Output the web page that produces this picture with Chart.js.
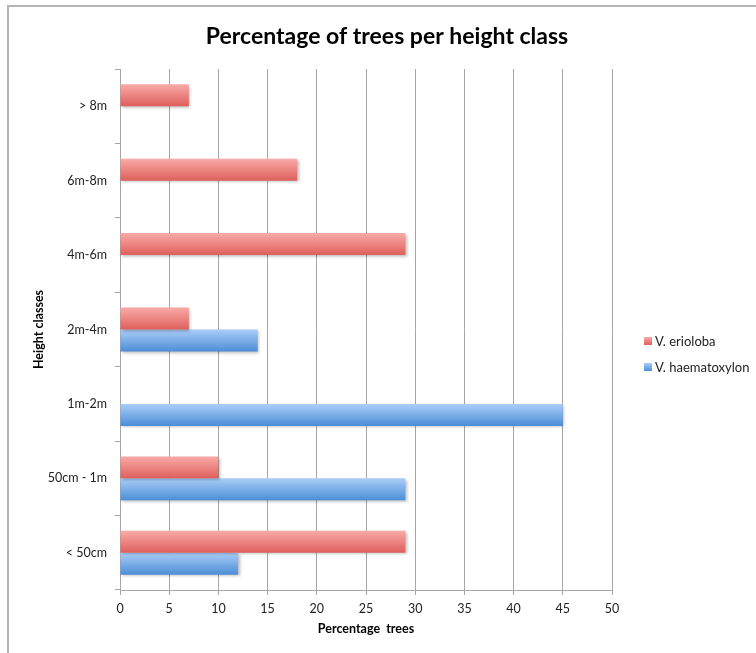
<!DOCTYPE html>
<html lang="en">
<head>
  <meta charset="UTF-8" />
  <title>Percentage of trees per height class</title>
  <script src="https://cdn.jsdelivr.net/npm/chart.js"></script>
  <style>
    body {
      margin: 0;
      padding: 0;
      background: #ffffff;
      font-family: Lato, sans-serif;
    }
    .wrap {
      position: relative;
      width: 756px;
      height: 653px;
      overflow: hidden;
    }
    .frame {
      position: absolute;
      left: 7px;
      top: 5px;
      width: 800px;
      height: 700px;
      border-top: 2px solid #b4b4b4;
      border-left: 2px solid #b4b4b4;
      pointer-events: none;
    }
    canvas {
      position: absolute;
      left: 0;
      top: 0;
    }
  </style>
</head>
<body>
  <div class="wrap">
    <canvas id="treeChart" width="756" height="653"></canvas>
    <div class="frame"></div>
  </div>

  <script>
    const chartTitle = 'Percentage of trees per height class';
    const heightClasses = ['> 8m', '6m-8m', '4m-6m', '2m-4m', '1m-2m', '50cm - 1m', '< 50cm'];
    const eriolobaValues = [7, 18, 29, 7, 0, 10, 29];
    const haematoxylonValues = [0, 0, 0, 14, 45, 29, 12];
    const xTicks = [0, 5, 10, 15, 20, 25, 30, 35, 40, 45, 50];

    const catPct = 0.59;
    const fills = [
      { top: '#f9aba8', bottom: '#de5f5b' },
      { top: '#abcdf8', bottom: '#4b8ed7' }
    ];

    // vertical gradient for each bar, worked out from the category scale
    function barFill(ctx) {
      const c = fills[ctx.datasetIndex];
      const yScale = ctx.chart.scales.y;
      if (!yScale || ctx.dataIndex === undefined) return c.bottom;
      const step = yScale.getPixelForValue(1) - yScale.getPixelForValue(0);
      if (!isFinite(step) || step <= 0) return c.bottom;
      const groupH = step * catPct;
      const barH = groupH / 2;
      const top = yScale.getPixelForValue(ctx.dataIndex) - groupH / 2 + ctx.datasetIndex * barH;
      const g = ctx.chart.ctx.createLinearGradient(0, top, 0, top + barH);
      g.addColorStop(0, c.top);
      g.addColorStop(1, c.bottom);
      return g;
    }

    const shadowPlugin = {
      id: 'barShadow',
      beforeDatasetsDraw(chart) {
        const ctx = chart.ctx;
        ctx.save();
        ctx.shadowColor = 'rgba(0,0,0,0.28)';
        ctx.shadowBlur = 3;
        ctx.shadowOffsetX = 1.5;
        ctx.shadowOffsetY = 1.5;
      },
      afterDatasetsDraw(chart) {
        chart.ctx.restore();
      }
    };

    // title and legend drawn by hand so they sit where the original has them
    const textPlugin = {
      id: 'titleLegend',
      afterDraw(chart) {
        const ctx = chart.ctx;
        ctx.save();
        ctx.fillStyle = '#000';
        ctx.font = 'bold 23px Lato';
        ctx.textAlign = 'center';
        ctx.textBaseline = 'middle';
        ctx.fillText(chartTitle, 387, 37);

        ctx.font = '13px Lato';
        ctx.textAlign = 'left';
        chart.data.datasets.forEach((ds, i) => {
          const y = 341 + i * 26;
          const g = ctx.createLinearGradient(0, y - 4, 0, y + 4);
          g.addColorStop(0, fills[i].top);
          g.addColorStop(1, fills[i].bottom);
          ctx.fillStyle = g;
          ctx.fillRect(644, y - 4, 8, 8);
          ctx.fillStyle = '#222';
          ctx.fillText(ds.label, 655, y + 1);
        });
        ctx.restore();
      }
    };

    const gridGray = '#a6a6a6';

    new Chart(document.getElementById('treeChart').getContext('2d'), {
      type: 'bar',
      data: {
        labels: heightClasses,
        datasets: [
          {
            label: 'V. erioloba',
            data: eriolobaValues,
            backgroundColor: barFill,
            borderWidth: 0,
            categoryPercentage: catPct,
            barPercentage: 1
          },
          {
            label: 'V. haematoxylon',
            data: haematoxylonValues,
            backgroundColor: barFill,
            borderWidth: 0,
            categoryPercentage: catPct,
            barPercentage: 1
          }
        ]
      },
      options: {
        indexAxis: 'y',
        responsive: false,
        animation: false,
        layout: { padding: { top: 69, left: 0, right: 144, bottom: 0 } },
        plugins: {
          legend: { display: false },
          title: { display: false },
          tooltip: { enabled: false }
        },
        scales: {
          x: {
            min: 0,
            max: 50,
            afterFit: s => { s.height = 63; },
            afterBuildTicks: s => { s.ticks = xTicks.map(v => ({ value: v })); },
            grid: { color: gridGray, tickLength: 5, lineWidth: 1 },
            border: { color: gridGray },
            ticks: {
              color: '#222',
              padding: 6,
              maxRotation: 0,
              font: { family: 'Lato', size: 12.5 }
            },
            title: {
              display: true,
              text: 'Percentage  trees',
              color: '#000',
              padding: { top: 0, bottom: 17 },
              font: { family: 'Lato', size: 12.5, weight: 'bold' }
            }
          },
          y: {
            afterFit: s => { s.width = 120; },
            grid: { offset: true, drawOnChartArea: false, color: gridGray, tickLength: 5 },
            border: { color: gridGray },
            ticks: {
              color: '#222',
              padding: 8,
              font: { family: 'Lato', size: 12.5 }
            },
            title: {
              display: true,
              text: 'Height classes',
              color: '#000',
              padding: { top: 31, bottom: 0 },
              font: { family: 'Lato', size: 12.5, weight: 'bold' }
            }
          }
        }
      },
      plugins: [shadowPlugin, textPlugin]
    });
  </script>
</body>
</html>
